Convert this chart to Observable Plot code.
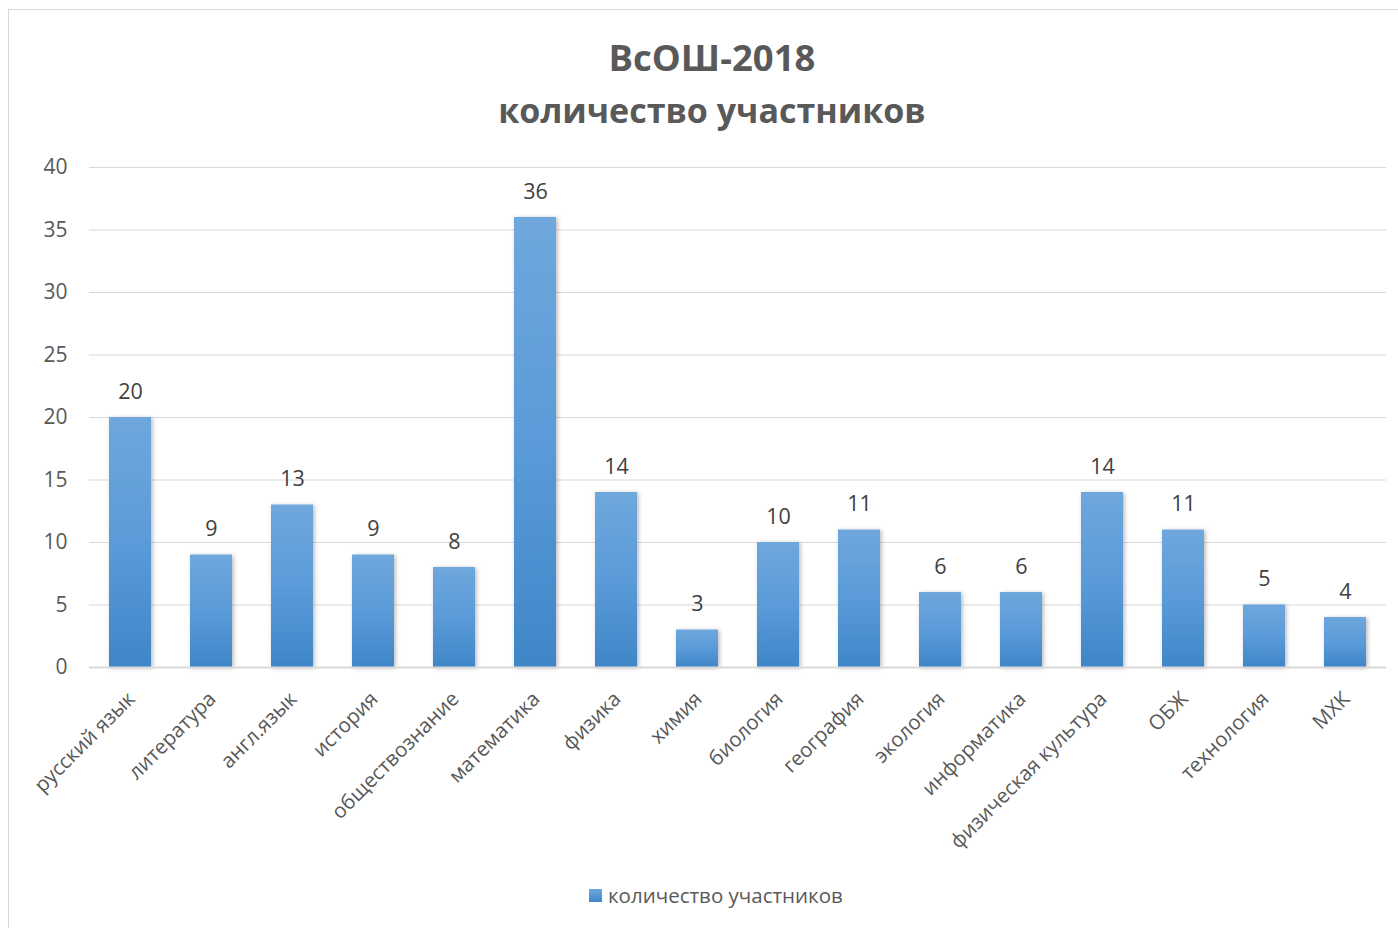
<!DOCTYPE html>
<html>
<head>
<meta charset="utf-8">
<script src="https://cdn.jsdelivr.net/npm/d3@7"></script>
<script src="https://cdn.jsdelivr.net/npm/@observablehq/plot@0.6"></script>
<style>
  html, body { margin: 0; padding: 0; background: #fff; }
  #wrap { position: relative; width: 1398px; height: 928px; overflow: hidden; font-family: "Open Sans", sans-serif; }
  #frame { position: absolute; left: 8px; top: 9px; width: 1400px; height: 930px; border: 1.5px solid #d9d9d9; box-sizing: border-box; }
  .title { position: absolute; left: 0; width: 1424px; text-align: center; font-weight: 700; color: #595959; }
  #legend { position: absolute; top: 881px; left: 589px; font-size: 20.5px; color: #595959; display: flex; align-items: center; }
  #legend .sw { width: 13px; height: 13px; background: linear-gradient(#6ea6dd, #3f86c8); margin-right: 6px; }
  #chart { position: absolute; left: 0; top: 0; }
</style>
</head>
<body>
<div id="wrap">
  <div id="frame"></div>
  <div class="title" style="top:32px;font-size:36.5px">ВсОШ-2018</div>
  <div class="title" style="top:87px;font-size:34px">количество участников</div>
  <div id="chart"></div>
  <div id="legend"><div class="sw"></div><span>количество участников</span></div>
</div>
<script>
const subjects = ["русский язык","литература","англ.язык","история","обществознание","математика","физика","химия","биология","география","экология","информатика","физическая культура","ОБЖ","технология","МХК"];
const participants = [20, 9, 13, 9, 8, 36, 14, 3, 10, 11, 6, 6, 14, 11, 5, 4];
const yTicks = [0, 5, 10, 15, 20, 25, 30, 35, 40];
const seriesName = "количество участников";

const data = subjects.map((s, i) => ({subject: s, value: participants[i]}));

const plot = Plot.plot({
  width: 1398,
  height: 928,
  marginTop: 167,
  marginBottom: 261,
  marginLeft: 89,
  marginRight: 12,
  style: {fontFamily: "'Open Sans', sans-serif", background: "transparent"},
  x: {domain: subjects, paddingInner: 0.48, paddingOuter: 0.24, label: null},
  y: {domain: [0, 40], ticks: yTicks, label: null},
  marks: [
    () => {
      const ns = "http://www.w3.org/2000/svg";
      const defs = document.createElementNS(ns, "defs");
      defs.innerHTML = `
        <linearGradient id="barGrad" x1="0" y1="0" x2="0" y2="1">
          <stop offset="0" stop-color="#6fa7dd"/>
          <stop offset="0.5" stop-color="#5b9bd9"/>
          <stop offset="1" stop-color="#3f86c8"/>
        </linearGradient>
        <filter id="shadow" x="-30%" y="-10%" width="160%" height="120%">
          <feDropShadow dx="1.5" dy="1" stdDeviation="2" flood-color="#000" flood-opacity="0.28"/>
        </filter>`;
      return defs;
    },
    Plot.gridY(yTicks, {stroke: "#d9d9d9", strokeOpacity: 1, strokeWidth: 1}),
    Plot.axisY(yTicks, {tickSize: 0, tickPadding: 22, fontSize: 21, fill: "#595959", label: null}),
    Plot.barY(data, {x: "subject", y: "value", fill: "url(#barGrad)"}),
    Plot.ruleY([0], {stroke: "#d9d9d9", strokeWidth: 2}),
    Plot.text(data, {x: "subject", y: "value", text: d => String(d.value), lineAnchor: "bottom", dy: -19, fontSize: 21.5, fill: "#404040"}),
    Plot.axisX({tickSize: 0, tickRotate: -45, tickPadding: 28, dx: 1, fontSize: 20.5, fill: "#595959", label: null})
  ]
});
plot.querySelectorAll("g[aria-label='bar'] rect").forEach(r => r.setAttribute("filter", "url(#shadow)"));
document.getElementById("chart").appendChild(plot);
</script>
</body>
</html>
